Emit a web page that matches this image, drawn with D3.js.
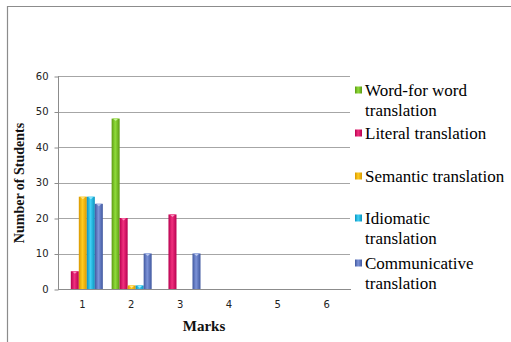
<!DOCTYPE html>
<html><head><meta charset="utf-8">
<script src="https://cdn.jsdelivr.net/npm/d3@7"></script>
<style>body{margin:0;background:#fff}svg{display:block}
.serif{font-family:"Liberation Serif",serif}
</style>
</head><body>
<svg id="c" width="511" height="342"></svg>
<script>
const categories = ["1","2","3","4","5","6"];
const seriesNames = ["Word-for word translation","Literal translation","Semantic translation","Idiomatic translation","Communicative translation"];
const legendLines = [["Word-for word","translation"],["Literal translation"],["Semantic translation"],["Idiomatic","translation"],["Communicative","translation"]];
const wordForWord   = [0,48,0,0,0,0];
const literal       = [5,20,21,0,0,0];
const semantic      = [26,1,0,0,0,0];
const idiomatic     = [26,1,0,0,0,0];
const communicative = [24,10,10,0,0,0];
const seriesValues = [wordForWord, literal, semantic, idiomatic, communicative];
const yTicks = [0,10,20,30,40,50,60];
const colors = [["#5c9a12","#8fdc3a"],["#b8004f","#f0307e"],["#d89800","#ffcc20"],["#0894bf","#40d0f5"],["#40589f","#7d93d8"]];

const svg = d3.select("#c");
const defs = svg.append("defs");
colors.forEach((c,i)=>{
  const g = defs.append("linearGradient").attr("id","g"+i).attr("x1","0").attr("x2","1").attr("y1","0").attr("y2","0");
  g.append("stop").attr("offset","0").attr("stop-color",c[0]);
  g.append("stop").attr("offset","0.45").attr("stop-color",c[1]);
  g.append("stop").attr("offset","1").attr("stop-color",c[0]);
});

// outer border
svg.append("path").attr("d","M7.5,342 V6.5 H511").attr("fill","none").attr("stroke","#8c8c8c").attr("stroke-width",1.2);

const x0 = d3.scaleBand().domain(categories).range([58,351]).padding(0);
const x1 = d3.scaleBand().domain(d3.range(seriesNames.length)).range([4.8, x0.bandwidth()-4]);
const y = d3.scaleLinear().domain([0,60]).range([289,76]);

// gridlines
svg.append("g").selectAll("line").data(yTicks.slice(1)).join("line")
  .attr("x1",58).attr("x2",350).attr("y1",d=>Math.round(y(d))+0.5).attr("y2",d=>Math.round(y(d))+0.5)
  .attr("stroke","#a6a6a6").attr("stroke-width",1);

// y axis
const ya = svg.append("g").attr("transform","translate(58.5,0)")
  .call(d3.axisLeft(y).tickValues(yTicks).tickSize(4).tickPadding(6));
ya.selectAll("path,line").attr("stroke","#8c8c8c");
ya.select(".domain").attr("d","M0,76V289.5");
ya.selectAll("text").attr("font-family","'DejaVu Sans',sans-serif").attr("font-size",10).attr("fill","#222");
ya.selectAll(".tick line").attr("transform","translate(0,0.5)");

// x axis
const xa = svg.append("g").attr("transform","translate(0,289.5)")
  .call(d3.axisBottom(x0).tickSize(0).tickPadding(11));
xa.selectAll("path").attr("stroke","#8c8c8c").attr("d","M58,0H351");
xa.selectAll("text").attr("font-family","'DejaVu Sans',sans-serif").attr("font-size",10).attr("fill","#222");

// bars
const groups = svg.append("g").selectAll("g").data(categories).join("g")
  .attr("transform",d=>`translate(${x0(d)},0)`);
groups.each(function(cat,ci){
  const g = d3.select(this);
  seriesValues.forEach((vals,si)=>{
    const v = vals[ci];
    if(v<=0) return;
    const bx = x1(si), bw = x1.bandwidth(), top = y(v), h = y(0)-top;
    g.append("rect").attr("x",bx).attr("y",top).attr("width",bw).attr("height",h).attr("fill",`url(#g${si})`);
    if(h>3){
      g.append("path").attr("d",`M${bx+1},${top} H${bx+bw-1} L${bx+bw/2},${top+3} Z`).attr("fill",colors[si][1]).attr("opacity",0.9);
      g.append("path").attr("d",`M${bx+bw/2-2},${top+0.5} H${bx+bw/2+2} L${bx+bw/2},${top+2.5} Z`).attr("fill","#fff").attr("opacity",0.5);
    }
  });
});

// legend
const legendY = [90,133,176,218,263];
const lg = svg.append("g");
legendLines.forEach((lines,i)=>{
  lg.append("rect").attr("x",355).attr("y",legendY[i]-3.5).attr("width",7).attr("height",7).attr("fill",`url(#g${i})`);
  lines.forEach((t,j)=>{
    lg.append("text").attr("class","serif").attr("x",365).attr("y",legendY[i]+5.5+j*20).text(t)
      .attr("font-size",17).attr("fill","#000");
  });
});

// axis titles
svg.append("text").attr("class","serif").attr("transform","translate(24,183) rotate(-90)").attr("text-anchor","middle")
  .attr("font-weight","bold").attr("font-size",14).attr("fill","#111")
  .text("Number of Students");
svg.append("text").attr("class","serif").attr("x",204).attr("y",331).attr("text-anchor","middle")
  .attr("font-weight","bold").attr("font-size",15).attr("fill","#111")
  .text("Marks");
</script>
</body></html>
